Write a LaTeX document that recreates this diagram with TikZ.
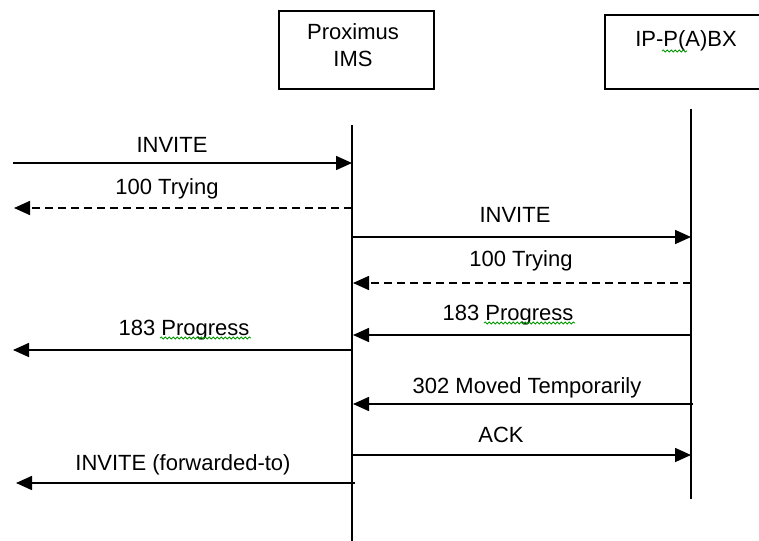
\documentclass[tikz,border=0pt]{standalone}
\usepackage{fontspec}
\setmainfont{Liberation Sans}
\usetikzlibrary{arrows.meta,decorations.pathmorphing}
\begin{document}
\begin{tikzpicture}[x=1pt,y=-1pt,
  life/.style={line width=1.7pt, draw=black},
  msg/.style={line width=1.6pt, draw=black, -{Triangle[length=16pt,width=14pt]}},
  reply/.style={msg, dash pattern=on 8pt off 5pt},
  lbl/.style={anchor=base, inner sep=0pt, font=\fontsize{22}{26}\selectfont, text=black},
  box/.style={draw=black, line width=1.6pt, inner sep=0pt, anchor=north west},
  spell/.style={draw=green!60!black, line width=0.8pt, decorate,
    decoration={snake, amplitude=1.1pt, segment length=4pt}}]
\useasboundingbox (0,0) rectangle (759,540);
\clip (0,0) rectangle (759,540);
\fill[white] (0,0) rectangle (759,540);

% participant boxes
\node[box, minimum width=155pt, minimum height=78pt] (imsbox) at (278,10) {};
\node[lbl] (imsname1) at (353,40) {Proximus};
\node[lbl] (imsname2) at (353,67) {IMS};
\node[box, minimum width=200pt, minimum height=74pt] (pbxbox) at (604,14) {};
\node[lbl] (pbxname) at (686,47) {IP-P(A)BX};
\draw[spell] (662,51) -- (687,51);

% lifelines
\coordinate (imsT) at (352,125);
\coordinate (imsB) at (352,541);
\coordinate (pbxT) at (691,109);
\coordinate (pbxB) at (691,499);
\draw[life] (imsT) -- (imsB);
\draw[life] (pbxT) -- (pbxB);

% message end points
\coordinate (a1) at (13,163);  \coordinate (b1) at (352,163);
\coordinate (a2) at (352,208); \coordinate (b2) at (14,208);
\coordinate (a3) at (352,237); \coordinate (b3) at (691,237);
\coordinate (a4) at (691,283); \coordinate (b4) at (353,283);
\coordinate (a5) at (692,335); \coordinate (b5) at (353,335);
\coordinate (a6) at (352,350); \coordinate (b6) at (13,350);
\coordinate (a7) at (693,404); \coordinate (b7) at (353,404);
\coordinate (a8) at (352,455); \coordinate (b8) at (691,455);
\coordinate (a9) at (355,483); \coordinate (b9) at (16,483);

% messages
\draw[msg]   (a1) -- (b1);
\draw[reply] (a2) -- (b2);
\draw[msg]   (a3) -- (b3);
\draw[reply] (a4) -- (b4);
\draw[msg]   (a5) -- (b5);
\draw[msg]   (a6) -- (b6);
\draw[msg]   (a7) -- (b7);
\draw[msg]   (a8) -- (b8);
\draw[msg]   (a9) -- (b9);

% labels
\node[lbl] (l1) at (172,153) {INVITE};
\node[lbl] (l2) at (167,194) {100 Trying};
\node[lbl] (l3) at (515,222) {INVITE};
\node[lbl] (l4) at (521,266) {100 Trying};
\node[lbl] (l5) at (508,320) {183 Progress};
\draw[spell] (484,323) -- (575,323);
\node[lbl] (l6) at (184,335) {183 Progress};
\draw[spell] (160,338) -- (251,338);
\node[lbl] (l7) at (527,393) {302 Moved Temporarily};
\node[lbl] (l8) at (501,442) {ACK};
\node[lbl] (l9) at (183,470) {INVITE (forwarded-to)};
\end{tikzpicture}
\end{document}
